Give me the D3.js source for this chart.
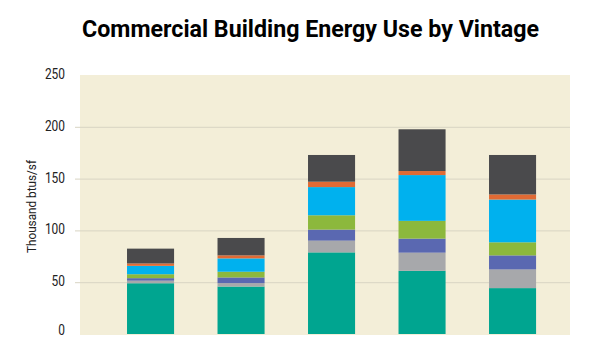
<!DOCTYPE html>
<html>
<head>
<meta charset="utf-8">
<script src="https://cdn.jsdelivr.net/npm/d3@7"></script>
<style>
  html, body { margin: 0; padding: 0; background: #ffffff; }
  svg { display: block; }
</style>
</head>
<body>
<svg id="chart" width="600" height="338"></svg>
<script>
// Building vintages (one stacked bar each) and the energy end-use components, bottom to top
const vintages = ["V1", "V2", "V3", "V4", "V5"];
const components = ["c1", "c2", "c3", "c4", "c5", "c6", "c7"];
const componentColors = ["#00a590", "#a7a8ab", "#5a68b1", "#8cb83c", "#00b1ee", "#e06a34", "#4a4a4c"];

// Thousand btus/sf per component, one array per vintage
const c1 = [49.0, 45.8, 78.8, 61.0, 44.3];
const c2 = [2.5, 3.3, 11.3, 17.5, 18.0];
const c3 = [2.4, 5.5, 10.7, 13.6, 13.6];
const c4 = [3.8, 5.5, 13.8, 17.1, 12.6];
const c5 = [8.1, 12.9, 27.2, 44.2, 41.3];
const c6 = [2.3, 2.9, 5.2, 3.9, 4.9];
const c7 = [14.3, 16.8, 25.8, 40.3, 38.1];
const seriesValues = [c1, c2, c3, c4, c5, c6, c7];

const yTicks = [0, 50, 100, 150, 200, 250];
const titleText = "Commercial Building Energy Use by Vintage";
const yLabelText = "Thousand btus/sf";

const rows = vintages.map((v, i) => {
  const r = { vintage: v };
  components.forEach((c, j) => { r[c] = seriesValues[j][i]; });
  return r;
});

const svg = d3.select("#chart");
const plot = { left: 80, right: 570, top: 75, bottom: 334 };

const x = d3.scaleBand()
  .domain(vintages)
  .range([105.3, 557.8])
  .paddingInner(0.48)
  .paddingOuter(0.24);

const y = d3.scaleLinear().domain([0, 250]).range([plot.bottom, plot.top]);

// plot background
svg.append("rect")
  .attr("x", plot.left).attr("y", plot.top)
  .attr("width", plot.right - plot.left)
  .attr("height", plot.bottom - plot.top + 1)
  .attr("fill", "#f3eed8");

// horizontal gridlines and tick labels via the axis generator
const yAxis = d3.axisLeft(y)
  .tickValues(yTicks)
  .tickSize(-(plot.right - 75))
  .tickPadding(10)
  .tickFormat(d3.format("d"));

const gAxis = svg.append("g")
  .attr("transform", `translate(75,0)`)
  .call(yAxis);
gAxis.select(".domain").remove();
gAxis.selectAll(".tick line")
  .attr("stroke", "#d8d4c3")
  .attr("stroke-width", 1)
  .attr("display", d => (d === 0 || d === 250) ? "none" : null);
gAxis.selectAll(".tick text")
  .attr("x", -10)
  .attr("y", d => d === 0 ? -4 : -1)
  .attr("fill", "#222")
  .style("font-family", "Roboto, 'Open Sans', sans-serif")
  .style("font-size", "14px")
  .attr("textLength", d => String(d).length * 6.7)
  .attr("lengthAdjust", "spacingAndGlyphs");

// stacked bars
const stack = d3.stack().keys(components);
const layers = stack(rows);

svg.append("g")
  .selectAll("g")
  .data(layers)
  .join("g")
  .attr("fill", (d, i) => componentColors[i])
  .selectAll("rect")
  .data(d => d)
  .join("rect")
  .attr("x", d => x(d.data.vintage))
  .attr("width", x.bandwidth())
  .attr("y", d => y(d[1]))
  .attr("height", d => y(d[0]) - y(d[1]));

// title
svg.append("text")
  .attr("x", 310.5)
  .attr("y", 37)
  .attr("text-anchor", "middle")
  .attr("fill", "#000")
  .style("font-family", "Roboto, 'Open Sans', sans-serif")
  .style("font-weight", "700")
  .style("font-size", "24px")
  .attr("textLength", 457)
  .attr("lengthAdjust", "spacingAndGlyphs")
  .text(titleText);

// y axis label
svg.append("text")
  .attr("transform", "translate(36,206.5) rotate(-90)")
  .attr("text-anchor", "middle")
  .attr("fill", "#222")
  .style("font-family", "Roboto, 'Open Sans', sans-serif")
  .style("font-size", "13px")
  .attr("textLength", 93)
  .attr("lengthAdjust", "spacingAndGlyphs")
  .text(yLabelText);
</script>
</body>
</html>
